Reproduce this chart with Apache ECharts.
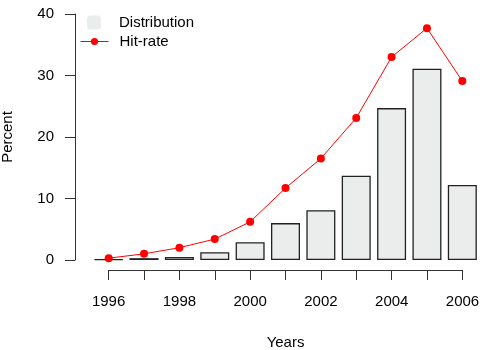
<!DOCTYPE html>
<html>
<head>
<meta charset="utf-8">
<script src="https://cdn.jsdelivr.net/npm/echarts@6/dist/echarts.min.js"></script>
<style>
  html, body { margin: 0; padding: 0; background: #fff; }
  #main { width: 500px; height: 350px; }
</style>
</head>
<body>
<div id="main"></div>
<script>
const years = ['1996', '1997', '1998', '1999', '2000', '2001', '2002', '2003', '2004', '2005', '2006'];
const distribution = [0.1, 0.3, 0.5, 1.25, 2.9, 6.0, 8.1, 13.7, 24.7, 31.1, 12.2];
const hitRate = [0.3, 1.0, 2.0, 3.4, 6.2, 11.7, 16.5, 23.1, 33.0, 37.7, 29.1];
const yTicks = [0, 10, 20, 30, 40];

const font = 'Liberation Sans';
const txt = { color: '#000', fontFamily: font, fontSize: 15 };
const axisColor = '#333';

const option = {
    animation: false,
    backgroundColor: '#fff',
    textStyle: { fontFamily: font },
    legend: [
        {
            data: ['Distribution'],
            left: 82, top: 10,
            itemWidth: 14, itemHeight: 14,
            itemStyle: { borderWidth: 0 },
            textStyle: Object.assign({}, txt, { padding: [0, 0, 0, 13] })
        },
        {
            data: ['Hit-rate'],
            left: 75, top: 29,
            itemWidth: 28, itemHeight: 9,
            lineStyle: { width: 1 },
            textStyle: Object.assign({}, txt, { padding: [0, 0, 0, 6] })
        }
    ],
    grid: [
        { left: 91, right: 20, top: 14, bottom: 90, outerBoundsMode: 'none' },
        { left: 108.6, right: 37.5, top: 14, bottom: 80, outerBoundsMode: 'none' }
    ],
    xAxis: [
        { type: 'category', gridIndex: 0, data: years, show: false },
        {
            type: 'category', gridIndex: 1, data: years, boundaryGap: false,
            name: 'Years', nameLocation: 'middle', nameGap: 65,
            nameTextStyle: txt,
            axisLine: { lineStyle: { color: axisColor, width: 1 } },
            axisTick: { interval: 0, length: 10, lineStyle: { color: axisColor } },
            axisLabel: Object.assign({ interval: 1, margin: 24 }, txt),
            splitLine: { show: false }
        }
    ],
    yAxis: [
        {
            type: 'value', gridIndex: 0, min: 0, max: 40, interval: 10, offset: 16,
            name: 'Percent', nameLocation: 'middle', nameGap: 60, nameRotate: 90,
            nameTextStyle: txt,
            axisLine: { show: true, lineStyle: { color: axisColor, width: 1 } },
            axisTick: { show: true, length: 10, lineStyle: { color: axisColor } },
            axisLabel: Object.assign({
                margin: 21,
                formatter: v => yTicks.includes(v) ? String(v) : ''
            }, txt),
            splitLine: { show: false }
        },
        { type: 'value', gridIndex: 1, show: false, min: 0, max: 40 }
    ],
    series: [
        {
            name: 'Distribution', type: 'bar', xAxisIndex: 0, yAxisIndex: 0,
            data: distribution, barCategoryGap: '18%',
            itemStyle: { color: '#EBEDED', borderColor: '#222', borderWidth: 1.3 }
        },
        {
            name: 'Hit-rate', type: 'line', xAxisIndex: 0, yAxisIndex: 0,
            data: hitRate, symbol: 'circle', symbolSize: 8,
            lineStyle: { color: '#FF0000', width: 1 },
            itemStyle: { color: '#FF0000' }
        }
    ]
};

const chart = echarts.init(document.getElementById('main'));
chart.setOption(option);
</script>
</body>
</html>
